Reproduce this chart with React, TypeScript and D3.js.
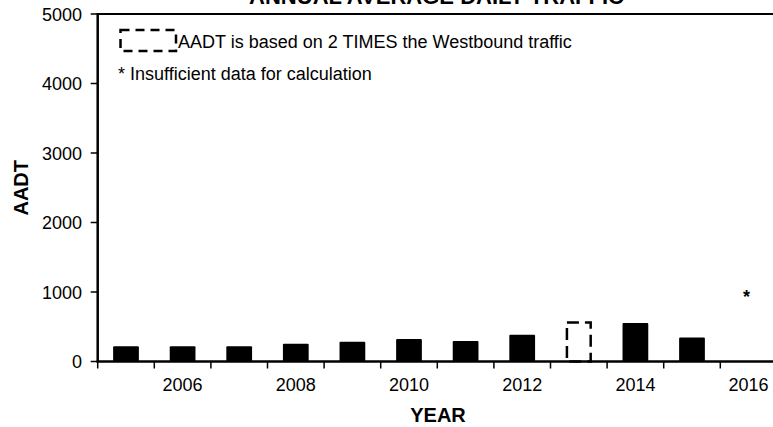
import React from "react";
import * as d3 from "d3";

const years = [2005, 2006, 2007, 2008, 2009, 2010, 2011, 2012, 2013, 2014, 2015, 2016];
const aadt: (number | null)[] = [220, 220, 220, 255, 283, 322, 294, 384, 560, 553, 345, null];
const doubledYears = [2013];
const insufficientYears = [2016];
const insufficientMarkValue = 1000;
const yTicks = [0, 1000, 2000, 3000, 4000, 5000];
const xLabelYears = [2006, 2008, 2010, 2012, 2014, 2016];
const title = "ANNUAL AVERAGE DAILY TRAFFIC";
const xTitle = "YEAR";
const yTitle = "AADT";
const legendDashed = "AADT is based on 2 TIMES the Westbound traffic";
const legendStar = "* Insufficient data for calculation";

const W = 773;
const H = 427;
const FONT = "'Liberation Sans', Arial, sans-serif";

export default function App() {
  const left = 97.7;
  const step = 56.6;
  const top = 14;
  const bottom = 361.5;
  const x = d3
    .scaleBand<number>()
    .domain(years)
    .range([left, left + step * years.length])
    .paddingInner(0)
    .paddingOuter(0);
  const y = d3.scaleLinear().domain([0, 5000]).range([bottom, top]);
  const bw = x.bandwidth() * 0.455;

  return (
    <svg
      width={W}
      height={H}
      style={{ position: "absolute", left: 0, top: 0, background: "#fff" }}
      fontFamily={FONT}
    >
      <rect x={0} y={0} width={W} height={H} fill="#fff" />
      {/* title, clipped at top */}
      <text x={436.5} y={4} textAnchor="middle" fontSize={22} fontWeight="bold" fill="#000">
        {title}
      </text>

      {/* bars */}
      {years.map((yr, i) => {
        const v = aadt[i];
        if (v == null) return null;
        const cx = (x(yr) as number) + x.bandwidth() / 2;
        const dashed = doubledYears.includes(yr);
        if (dashed) {
          return (
            <rect
              key={yr}
              x={cx - bw / 2 + 1}
              y={y(v)}
              width={bw - 2}
              height={bottom - y(v)}
              fill="none"
              stroke="#000"
              strokeWidth={2.5}
              strokeDasharray="12,6"
            />
          );
        }
        return (
          <rect
            key={yr}
            x={cx - bw / 2}
            y={y(v)}
            width={bw}
            height={bottom - y(v)}
            fill="#000"
            rx={1}
          />
        );
      })}

      {/* insufficient marks */}
      {insufficientYears.map((yr) => {
        const cx = (x(yr) as number) + x.bandwidth() / 2 - 2;
        return (
          <text key={yr} x={cx} y={y(insufficientMarkValue) + 11} textAnchor="middle" fontSize={18} fontWeight="bold" fill="#000">
            *
          </text>
        );
      })}

      {/* frame top */}
      <line x1={left} x2={W} y1={top} y2={top} stroke="#000" strokeWidth={2} />
      {/* y axis */}
      <line x1={left} x2={left} y1={top - 1} y2={bottom + 1} stroke="#000" strokeWidth={2.5} />
      {yTicks.map((t) => (
        <g key={t}>
          <line x1={left - 7} x2={left} y1={y(t)} y2={y(t)} stroke="#000" strokeWidth={1.5} />
          <text x={82} y={y(t) + 6.5} textAnchor="end" fontSize={18} fill="#000">
            {t}
          </text>
        </g>
      ))}
      {/* x axis */}
      <line x1={left - 1} x2={W} y1={bottom} y2={bottom} stroke="#000" strokeWidth={2.5} />
      {years.map((yr) => (
        <line
          key={yr}
          x1={x(yr) as number}
          x2={x(yr) as number}
          y1={bottom}
          y2={bottom + 7}
          stroke="#000"
          strokeWidth={1.5}
        />
      ))}
      {xLabelYears.map((yr) => (
        <text
          key={yr}
          x={(x(yr) as number) + x.bandwidth() / 2}
          y={390.5}
          textAnchor="middle"
          fontSize={18}
          fill="#000"
        >
          {yr}
        </text>
      ))}

      {/* axis titles */}
      <text x={438} y={422} textAnchor="middle" fontSize={20} fontWeight="bold" fill="#000">
        {xTitle}
      </text>
      <text
        transform={`translate(28,${(top + bottom) / 2}) rotate(-90)`}
        textAnchor="middle"
        fontSize={20}
        fontWeight="bold"
        fill="#000"
      >
        {yTitle}
      </text>

      {/* legend */}
      <rect
        x={120.5}
        y={30}
        width={55.5}
        height={21}
        fill="none"
        stroke="#000"
        strokeWidth={2.5}
        strokeDasharray="9,6"
      />
      <text x={178} y={48.3} fontSize={18} fill="#000">
        {legendDashed}
      </text>
      <text x={118} y={80} fontSize={18} fill="#000">
        {legendStar}
      </text>
    </svg>
  );
}
